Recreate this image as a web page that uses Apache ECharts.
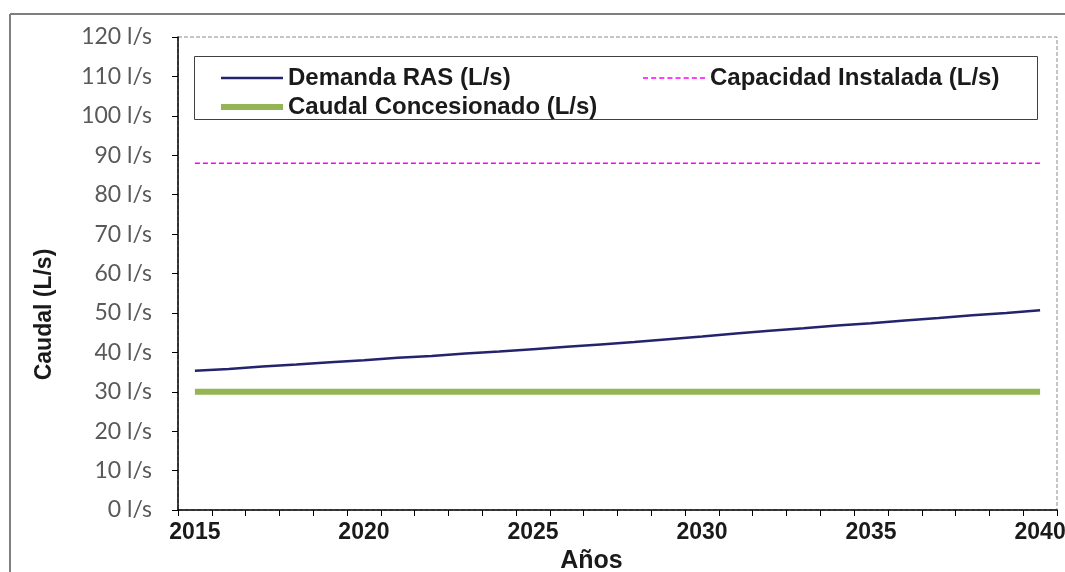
<!DOCTYPE html>
<html>
<head>
<meta charset="utf-8">
<script src="https://cdn.jsdelivr.net/npm/echarts@6/dist/echarts.min.js"></script>
<style>
html,body{margin:0;padding:0;background:#fff;}
#chart{width:1065px;height:572px;}
</style>
</head>
<body>
<div id="chart"></div>
<script>
const years = ['2015','2016','2017','2018','2019','2020','2021','2022','2023','2024','2025','2026','2027','2028','2029','2030','2031','2032','2033','2034','2035','2036','2037','2038','2039','2040'];
const demandaRAS = [35.3,35.8,36.4,36.9,37.5,38.0,38.6,39.1,39.7,40.2,40.8,41.4,42.0,42.6,43.3,44.0,44.8,45.5,46.1,46.8,47.4,48.1,48.7,49.4,50.0,50.7];
const capacidadInstalada = [88,88,88,88,88,88,88,88,88,88,88,88,88,88,88,88,88,88,88,88,88,88,88,88,88,88];
const caudalConcesionado = [30,30,30,30,30,30,30,30,30,30,30,30,30,30,30,30,30,30,30,30,30,30,30,30,30,30];
const seriesNames = ['Demanda RAS (L/s)','Capacidad Instalada (L/s)','Caudal Concesionado (L/s)'];
const yAxisTitle = 'Caudal (L/s)';
const xAxisTitle = 'Años';

const chart = echarts.init(document.getElementById('chart'), null, {renderer:'canvas'});
const legendText = {fontFamily:'Liberation Sans, Arial, sans-serif', fontWeight:'bold', fontSize:24, lineHeight:26, color:'#1a1a1a'};
const dashPath = 'path://M0,0h5v2h-5z M8,0h5v2h-5z M16,0h5v2h-5z M24,0h5v2h-5z M32,0h5v2h-5z M40,0h5v2h-5z M48,0h5v2h-5z M56,0h5v2h-5z';
function mkLegend(name, left, top, icon, h){
  return {data:[name], orient:'horizontal', left:left, top:top, icon:icon, symbolKeepAspect:false,
          itemWidth:62, itemHeight:h, itemGap:6, textStyle:legendText, z:10};
}
chart.setOption({
  animation:false,
  backgroundColor:'#fff',
  grid:{left:178, top:37, right:8, bottom:62, outerBoundsMode:'none', containLabel:false, show:true, borderColor:'#8c8c8c', borderWidth:1, borderType:'dashed', backgroundColor:'transparent'},
  graphic:[
    {type:'line', shape:{x1:10,y1:14,x2:1065,y2:14}, style:{stroke:'#7f7f7f', lineWidth:2}, z:0},
    {type:'line', shape:{x1:10,y1:14,x2:10,y2:572}, style:{stroke:'#7f7f7f', lineWidth:2}, z:0},
    {type:'rect', shape:{x:194.5,y:56.5,width:843,height:63}, style:{fill:'#fff', stroke:'#404040', lineWidth:1}, z:5}
  ],
  legend:[
    mkLegend(seriesNames[0], 216, 60, 'rect', 2.5),
    mkLegend(seriesNames[2], 216, 89, 'rect', 6),
    mkLegend(seriesNames[1], 638, 60, dashPath, 1.5)
  ],
  xAxis:{
    type:'category', data:years, boundaryGap:true,
    name:xAxisTitle, nameLocation:'middle', nameGap:36,
    nameTextStyle:{fontFamily:'Liberation Sans, Arial, sans-serif', fontWeight:'bold', fontSize:25, color:'#1a1a1a', padding:[0,52,0,0]},
    axisLine:{lineStyle:{color:'#000', width:1.5}},
    axisTick:{show:true, interval:0, length:6, lineStyle:{color:'#000'}},
    axisLabel:{interval:4, margin:11, fontFamily:'Liberation Sans, Arial, sans-serif', fontWeight:'bold', fontSize:23, color:'#1a1a1a'},
    splitLine:{show:false}
  },
  yAxis:{
    type:'value', min:0, max:120, interval:10,
    name:yAxisTitle, nameLocation:'middle', nameGap:122, nameRotate:90,
    nameTextStyle:{fontFamily:'Liberation Sans, Arial, sans-serif', fontWeight:'bold', fontSize:23, color:'#1a1a1a', padding:[0,82,0,0]},
    axisLine:{show:true, lineStyle:{color:'#000', width:1.5}},
    axisTick:{show:true, length:6, lineStyle:{color:'#000'}},
    axisLabel:{margin:26, fontFamily:'Lato, sans-serif', fontSize:23, color:'#595959', formatter:v => v + ' l/s'},
    splitLine:{show:false}
  },
  series:[
    {name:seriesNames[0], type:'line', data:demandaRAS, symbol:'none', lineStyle:{color:'#24246e', width:2.5}, itemStyle:{color:'#24246e'}, z:4},
    {name:seriesNames[1], type:'line', data:capacidadInstalada, symbol:'none', lineStyle:{color:'#ff00ff', width:1.5, type:[5,3]}, itemStyle:{color:'#ff00ff'}, z:3},
    {name:seriesNames[2], type:'line', data:caudalConcesionado, symbol:'none', lineStyle:{color:'#93b553', width:6}, itemStyle:{color:'#93b553'}, z:2}
  ]
});
</script>
</body>
</html>
